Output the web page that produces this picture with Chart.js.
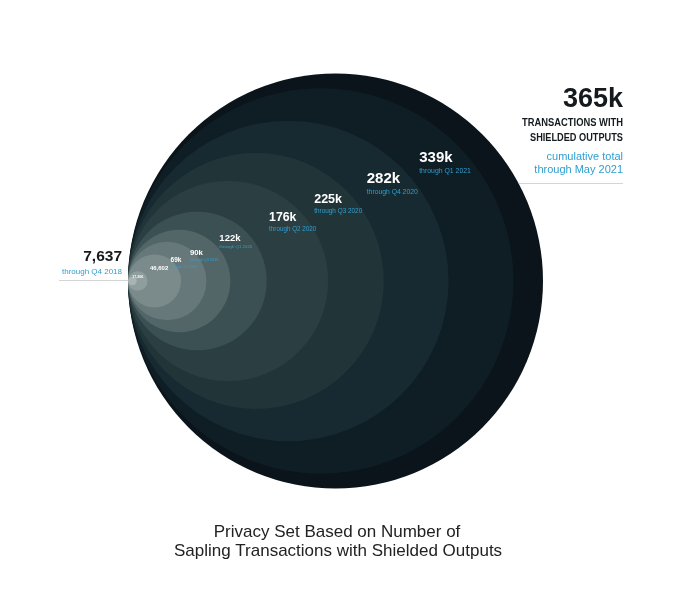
<!DOCTYPE html>
<html>
<head>
<meta charset="utf-8">
<script src="https://cdn.jsdelivr.net/npm/chart.js@4"></script>
<style>
  html,body{margin:0;padding:0;background:#fff;}
  #wrap{width:680px;height:605px;position:relative;}
</style>
</head>
<body>
<div id="wrap"><canvas id="c" width="680" height="605"></canvas></div>
<script>
// ---- data ----
const values = [7637, 17206, 46602, 69000, 90000, 122000, 176000, 225000, 282000, 339000, 365000];
const valueLabels = ["7,637", "17,206", "46,602", "69k", "90k", "122k", "176k", "225k", "282k", "339k", "365k"];
const periodLabels = ["through Q4 2018", "through Q1 2019", "through Q2 2019", "through Q3 2019", "through Q4 2019",
  "through Q1 2020", "through Q2 2020", "through Q3 2020", "through Q4 2020", "through Q1 2021", "through May 2021"];
const headlineLines = ["TRANSACTIONS WITH", "SHIELDED OUTPUTS"];
const noteLines = ["cumulative total", "through May 2021"];
const titleLines = ["Privacy Set Based on Number of", "Sapling Transactions with Shielded Outputs"];

// ---- styles ----
const fillColors = ["#a9b4b2", "#8f9d9c", "#7b8b8b", "#667879", "#526668", "#3b5053",
  "#2b3f43", "#213539", "#172a31", "#0f1d25", "#0a141a"];
const labelFontSizes = [0, 3.6, 6, 6.5, 7.8, 9.5, 12.3, 12.5, 15, 15, 0];
const subFontSizes = [0, 0, 0, 3.5, 3.8, 4.4, 6.3, 6.4, 6.8, 6.9, 0];
const BLUE = "#2f9fd0";
const FONT = "'Liberation Sans', Arial, Helvetica, sans-serif";

// draw biggest first
const order = values.map((v, i) => i).sort((a, b) => values[b] - values[a]);

function pxRadius(chart, v) {
  const s = chart.scales.x;
  return (s.getPixelForValue(v) - s.getPixelForValue(0)) / 2;
}

const labelPlugin = {
  id: 'labels',
  afterDatasetsDraw(chart) {
    const ctx = chart.ctx;
    const xs = chart.scales.x, ys = chart.scales.y;
    const x0 = xs.getPixelForValue(0);
    const cy = ys.getPixelForValue(0);
    ctx.save();
    ctx.textBaseline = 'middle';
    // inner labels
    for (let i = 1; i < values.length - 1; i++) {
      const v = values[i];
      const r = pxRadius(chart, v);
      const cx = xs.getPixelForValue(v / 2);
      const fs = labelFontSizes[i];
      let lx, ly;
      ctx.font = 'bold ' + fs + 'px ' + FONT;
      if (r < 20) {
        lx = cx - ctx.measureText(valueLabels[i]).width / 2;
        ly = cy - 4;
      } else {
        lx = cx + 0.62 * r - 21;
        ly = cy - (0.65 * r - 2) + (r < 60 ? 3 : 0);
      }
      ctx.textAlign = 'left';
      ctx.fillStyle = '#ffffff';
      ctx.fillText(valueLabels[i], lx, ly);
      if (subFontSizes[i] > 0) {
        ctx.fillStyle = BLUE;
        ctx.font = subFontSizes[i] + 'px ' + FONT;
        ctx.fillText(periodLabels[i], lx, ly + fs * 0.88 + 0.5);
      }
    }
    // first value, outside left
    ctx.textAlign = 'right';
    ctx.fillStyle = '#16191b';
    ctx.font = 'bold 15.5px ' + FONT;
    ctx.fillText(valueLabels[0], x0 - 6, cy - 24);
    ctx.fillStyle = BLUE;
    ctx.font = '8px ' + FONT;
    ctx.fillText(periodLabels[0], x0 - 6, cy - 9.5);
    ctx.strokeStyle = '#d4d6d6';
    ctx.lineWidth = 1;
    ctx.beginPath();
    ctx.moveTo(x0 - 69, cy - 0.5);
    ctx.lineTo(x0, cy - 0.5);
    ctx.stroke();

    // last value, outside right
    const last = values.length - 1;
    const R = pxRadius(chart, values[last]);
    const ccx = xs.getPixelForValue(values[last] / 2);
    const xr = xs.getPixelForValue(values[last]) + 80;
    ctx.fillStyle = '#141a1e';
    ctx.font = 'bold 27px ' + FONT;
    ctx.fillText(valueLabels[last], xr, cy - 181);
    ctx.font = 'bold 11px ' + FONT;
    ctx.fillText(headlineLines[0], xr, cy - 158, 101);
    ctx.fillText(headlineLines[1], xr, cy - 143, 93);
    ctx.fillStyle = BLUE;
    ctx.font = '11px ' + FONT;
    ctx.fillText(noteLines[0], xr, cy - 124);
    ctx.fillText(noteLines[1], xr, cy - 111);
    const ly2 = cy - 97.5;
    const dx = Math.sqrt(R * R - (cy - ly2) * (cy - ly2));
    ctx.strokeStyle = '#d4d6d6';
    ctx.beginPath();
    ctx.moveTo(ccx + dx, ly2);
    ctx.lineTo(xr, ly2);
    ctx.stroke();

    // title
    ctx.textAlign = 'center';
    ctx.fillStyle = '#222222';
    ctx.font = '17px ' + FONT;
    ctx.fillText(titleLines[0], 337, 532);
    ctx.fillText(titleLines[1], 338, 551);
    ctx.restore();
  }
};

new Chart(document.getElementById('c'), {
  type: 'scatter',
  data: {
    datasets: [{
      data: order.map(i => ({ x: values[i] / 2, y: 0, v: values[i] })),
      pointBackgroundColor: order.map(i => fillColors[i]),
      pointBorderWidth: 0,
      pointHoverBorderWidth: 0,
      pointRadius: (ctx) => (ctx.raw && ctx.chart.scales.x) ? Math.max(0, pxRadius(ctx.chart, ctx.raw.v)) : 0,
      pointHoverRadius: (ctx) => (ctx.raw && ctx.chart.scales.x) ? Math.max(0, pxRadius(ctx.chart, ctx.raw.v)) : 0,
      showLine: false
    }]
  },
  options: {
    responsive: false,
    animation: false,
    events: [],
    clip: false,
    layout: { padding: { left: 128, right: 97.2, top: 73, bottom: 116 } },
    scales: {
      x: { type: 'linear', min: 0, max: 400000, display: false },
      y: { type: 'linear', min: -1, max: 1, display: false }
    },
    plugins: { legend: { display: false }, tooltip: { enabled: false }, title: { display: false } }
  },
  plugins: [labelPlugin]
});
</script>
</body>
</html>
